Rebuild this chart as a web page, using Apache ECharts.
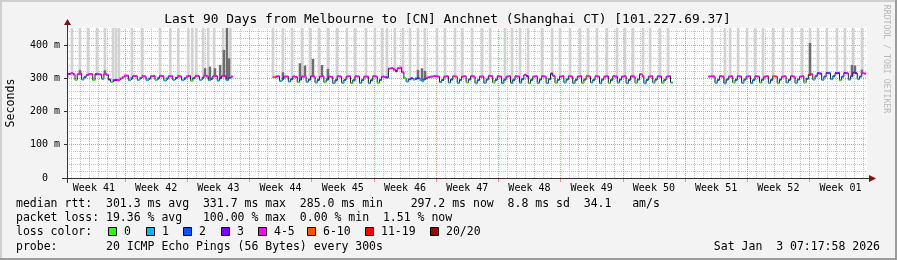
<!DOCTYPE html>
<html><head><meta charset="utf-8">
<script src="https://cdn.jsdelivr.net/npm/echarts@6/dist/echarts.min.js"></script>
<style>html,body{margin:0;padding:0;background:#f3f3f3}#c{width:897px;height:260px}</style>
</head><body><div id="c"></div>
<script>
// x coordinate: days since Monday 00:00 of Week 41; one median every 6 hours
const T0 = 0.5, STEP = 0.25;
const xMin = 0.475, xMax = 90.475;
const yMax = 451;
// median rtt (ms), 4 per day
const median = [
304,313,315,311, 295,312,314,296, 303,310,313,312, 294,312,313,311, 298,313,310,296,
289,294,295,294, 299,303,308,308, 294,300,307,306, 295,301,307,305, 294,299,306,307,
295,300,307,306, 293,299,306,306, 295,301,307,305, 294,300,306,307, 293,300,307,306,
295,301,308,305, 294,299,306,307, 293,300,307,306, 294,301,305,null,
null,null,null,null, null,null,null,null, null,null,null,null, null,null,null,null,
null,303,305,306, 292,298,305,305, 290,297,305,304, 288,296,305,305, 289,296,306,305,
287,295,305,306, 288,296,305,304, 285,294,306,305, 286,295,305,306, 285,294,306,305,
286,295,305,305, 285,294,306,305, 286,295,305,304, 302,329,331,326, 321,330,332,318,
300,290,297,300, 296,299,300,295, 291,298,302,304, 305,306,306,305, 288,295,305,306,
287,296,306,305, 286,295,305,306, 287,296,306,305, 285,294,305,305, 286,296,307,306,
287,295,306,305, 285,296,305,306, 286,295,306,305, 287,297,310,306, 285,295,305,306,
286,296,306,305, 285,297,314,307, 286,295,305,306, 287,296,306,305, 285,295,305,306,
286,296,307,305, 287,295,306,305, 285,296,305,306, 286,295,306,305, 287,296,305,306,
285,295,306,305, 286,296,312,306, 285,295,305,306, 287,296,306,305, 286,295,305,306,
287,null,null,null, null,null,null,null, null,null,null,null, null,null,null,null,
null,305,306,305, 286,295,306,305, 285,296,305,306, 287,295,306,305, 286,296,305,306,
285,295,306,305, 287,296,305,306, 286,295,306,305, 285,296,305,306, 287,295,306,305,
286,296,305,306, 287,298,310,312, 296,306,315,314, 295,305,316,315, 297,306,315,316,
294,305,316,315, 296,306,317,315, 297,305,315,314
];
// lost pings out of 20 for each median
const loss = [
4,3,5,4, 0,4,5,1, 2,5,4,5, 0,3,5,5, 1,5,4,3,
0,3,3,5, 5,5,5,4, 1,2,5,4, 1,2,5,5, 1,2,4,5,
0,2,5,4, 1,2,5,5, 1,3,5,4, 1,2,4,5, 0,2,5,4,
1,2,5,5, 1,2,5,4, 1,3,4,5, 1,2,5,0,
0,0,0,0, 0,0,0,0, 0,0,0,0, 0,0,0,0,
0,7,5,4, 1,2,5,4, 1,2,5,5, 0,2,4,5, 1,2,5,4,
1,2,5,5, 0,2,5,4, 1,2,5,5, 1,2,4,5, 0,2,5,4,
1,2,5,5, 1,2,5,4, 0,2,5,5, 2,5,5,5, 3,5,5,4,
0,1,2,3, 1,2,3,1, 1,2,4,5, 5,4,5,4, 1,2,5,4,
1,2,5,7, 1,2,5,4, 0,2,5,5, 1,2,4,5, 1,2,5,4,
0,2,5,5, 1,2,5,4, 1,2,4,5, 1,2,5,3, 0,2,5,4,
1,2,5,5, 1,2,3,5, 0,2,5,4, 1,2,5,5, 1,2,4,5,
0,2,7,5, 1,2,5,4, 1,2,5,5, 0,2,4,5, 1,2,5,4,
1,2,5,5, 0,2,5,4, 1,2,5,5, 1,2,4,5, 0,2,5,4,
1,0,0,0, 0,0,0,0, 0,0,0,0, 0,0,0,0,
0,5,5,4, 1,2,5,4, 1,2,5,5, 0,2,4,5, 1,2,5,4,
1,2,5,5, 0,2,5,4, 1,2,7,5, 0,2,5,4, 1,2,5,5,
1,2,4,5, 0,2,12,5, 1,2,3,3, 1,2,3,2, 1,2,3,3,
0,2,3,5, 1,2,3,3, 1,2,5,4
];
// times (days) where the ping spread (smoke) reaches past the top of the graph
const bandT = [1.03,1.93,2.83,3.85,4.75,5.65,5.98,6.32,7.78,8.91,10.94,12.09,12.99,14.11,14.56,15.01,15.8,16.36,17.03,18.04,18.83,
23.65,24.77,25.79,26.91,27.81,28.82,29.83,30.85,31.97,32.87,34.11,35.12,35.91,36.47,37.37,38.27,39.06,39.96,40.75,42.1,43.0,44.13,44.92,46.04,47.17,48.07,49.75,50.54,51.44,52.34,53.91,55.04,55.94,57.06,58.19,59.09,60.1,61.22,62.35,63.25,64.15,65.28,66.07,67.19,68.09,
73.04,74.5,75.07,75.97,76.98,77.88,78.78,79.91,81.03,82.04,83.17,84.06,84.96,85.97,87.1,88.0,88.9,89.91];
// dense (dark) smoke tops
const darkT   = [1.93,4.75,16.0,16.56,17.12,17.7,18.13,18.47,18.7,24.77,26.68,27.25,28.15,29.16,29.83,39.96,40.41,40.75,84.06,88.78,89.12,89.9];
const darkTop = [325, 324, 330, 335, 330, 340, 385, 451, 360, 318, 345, 338, 358, 340, 328, 325, 330, 322, 406, 340, 338, 326];
const weekLabels = ['Week 41','Week 42','Week 43','Week 44','Week 45','Week 46','Week 47','Week 48','Week 49','Week 50','Week 51','Week 52','Week 01'];
const yTicks = [0,100,200,300,400];
const lossColors = ['#26ff00','#00b8ff','#0059ff','#7e00ff','#ff00ff','#ff5500','#ff0000','#a10000'];
const lossLabels = ['0','1','2','3','4-5','6-10','11-19','20/20'];

function lossClass(n){ if(n<=3) return n; if(n<=5) return 4; if(n<=10) return 5; if(n<=19) return 6; return 7; }
function baseAt(t){
  let i = Math.round((t - T0)/STEP);
  for (let k=0;k<8;k++){
    for (const j of [i-k, i+k]) if (j>=0 && j<median.length && median[j]!=null) return median[j];
  }
  return 300;
}
const MONO = '"DejaVu Sans Mono", monospace';
const weekBounds = [], weekMids = [], days = [];
for (let w=1; w<=12; w++) weekBounds.push(w*7);
for (let w=0; w<13; w++) weekMids.push(w*7+3.5);
for (let d=1; d<=90; d++) if (d%7) days.push(d);
const gridData = [];
days.forEach(d=>gridData.push({xAxis:d, lineStyle:{color:'#c4c4c4', type:[1,1], width:1}}));
for (let v=20; v<=440; v+=20) if (v%100) gridData.push({yAxis:v, lineStyle:{color:'#c4c4c4', type:[1,1], width:1}});
weekBounds.forEach(d=>gridData.push({xAxis:d, lineStyle:{color:'#ff8c8c', type:[1,1], width:1}}));
yTicks.slice(1).forEach(v=>gridData.push({yAxis:v, lineStyle:{color:'#ff8c8c', type:[1,1], width:1}}));

const lineData = median.map((v,i)=>[T0+i*STEP, v==null?null:v]);
const dashData = [];
median.forEach((v,i)=>{ if(v!=null) dashData.push([T0+i*STEP, v, lossClass(loss[i])]); });

function rectItem(fill, wDays){
  return function(params, api){
    const t = api.value(0), lo = api.value(1), hi = api.value(2);
    const a = api.coord([t, hi]), b = api.coord([t, lo]);
    const w = api.size([wDays, 0])[0];
    return {type:'rect', shape:{x:a[0]-w/2, y:a[1], width:w, height:b[1]-a[1]}, style:{fill:fill}};
  };
}

const chart = echarts.init(document.getElementById('c'), null, {renderer:'canvas'});
const legendX = [108,146,183,221,258,307,365,430];
const graphic = [
  {type:'rect', shape:{x:0,y:0,width:897,height:2}, style:{fill:'#cfcfcf'}},
  {type:'rect', shape:{x:0,y:0,width:2,height:260}, style:{fill:'#cfcfcf'}},
  {type:'rect', shape:{x:895,y:0,width:2,height:260}, style:{fill:'#9c9c9c'}},
  {type:'rect', shape:{x:0,y:258,width:897,height:2}, style:{fill:'#9c9c9c'}},
  {type:'line', shape:{x1:67.5,y1:183,x2:67.5,y2:24}, style:{stroke:'#333',lineWidth:1}, z:50},
  {type:'line', shape:{x1:62,y1:178.5,x2:870,y2:178.5}, style:{stroke:'#333',lineWidth:1}, z:50},
  {type:'polygon', shape:{points:[[64,25],[71,25],[67.5,19]]}, style:{fill:'#7f1010'}, z:51},
  {type:'polygon', shape:{points:[[869,175],[869,182],[876,178.5]]}, style:{fill:'#7f1010'}, z:51},
  {type:'text', x:447.5, y:20, style:{text:'Last 90 Days from Melbourne to [CN] Anchnet (Shanghai CT) [101.227.69.37]', font:'12.9px '+MONO, fill:'#000', align:'center', verticalAlign:'middle'}},
  {type:'text', x:11, y:103, rotation:Math.PI/2, style:{text:'Seconds', font:'11.6px '+MONO, fill:'#000', align:'center', verticalAlign:'middle'}},
  {type:'text', x:886, y:59, rotation:-Math.PI/2, style:{text:'RRDTOOL / TOBI OETIKER', font:'8.2px '+MONO, fill:'#b8b8b8', align:'center', verticalAlign:'middle'}},
  {type:'text', x:16, y:204, style:{text:'median rtt:  301.3 ms avg  331.7 ms max  285.0 ms min    297.2 ms now  8.8 ms sd  34.1   am/s', font:'11.5px '+MONO, fill:'#000', verticalAlign:'middle'}},
  {type:'text', x:16, y:218, style:{text:'packet loss: 19.36 % avg   100.00 % max  0.00 % min  1.51 % now', font:'11.5px '+MONO, fill:'#000', verticalAlign:'middle'}},
  {type:'text', x:16, y:232, style:{text:'loss color:', font:'11.5px '+MONO, fill:'#000', verticalAlign:'middle'}},
  {type:'text', x:16, y:247, style:{text:'probe:       20 ICMP Echo Pings (56 Bytes) every 300s', font:'11.5px '+MONO, fill:'#000', verticalAlign:'middle'}},
  {type:'text', x:880, y:247, style:{text:'Sat Jan  3 07:17:58 2026', font:'11.5px '+MONO, fill:'#000', align:'right', verticalAlign:'middle'}}
];
lossLabels.forEach((lab,k)=>{
  graphic.push({type:'rect', shape:{x:legendX[k]+0.5,y:227.5,width:8,height:8}, style:{fill:lossColors[k], stroke:'#000', lineWidth:1}});
  graphic.push({type:'text', x:legendX[k]+16, y:232, style:{text:lab, font:'11.5px '+MONO, fill:'#000', verticalAlign:'middle'}});
});

chart.setOption({
  animation:false,
  backgroundColor:'#f3f3f3',
  grid:{left:67, top:28, width:800, height:150, show:true, backgroundColor:'#fff', borderWidth:0},
  xAxis:{type:'value', min:xMin, max:xMax,
    axisLine:{show:false},
    axisTick:{show:true, customValues:weekBounds, length:4, lineStyle:{color:'#ff8c8c'}},
    axisLabel:{show:true, customValues:weekMids, margin:5, fontFamily:MONO, fontSize:10, color:'#000',
      formatter:v=>weekLabels[Math.round((v-3.5)/7)]},
    splitLine:{show:false}},
  yAxis:{type:'value', min:0, max:yMax,
    axisLine:{show:false},
    axisTick:{show:true, customValues:yTicks, length:3, lineStyle:{color:'#333'}},
    axisLabel:{show:true, customValues:yTicks, margin:7, fontFamily:MONO, fontSize:10, color:'#000',
      formatter:v=> v===0 ? '0  ' : v+' m'},
    splitLine:{show:false}},
  graphic:graphic,
  series:[
    {type:'line', data:[[xMin,0],[xMax,0]], lineStyle:{opacity:0}, showSymbol:false, silent:true, z:0,
      markLine:{silent:true, symbol:['none','none'], label:{show:false}, animation:false, z:0, data:gridData}},
    {type:'custom', data:bandT.map(t=>[t, baseAt(t)-4, yMax]), renderItem:rectItem('#d2d2d2',0.3), clip:true, silent:true, z:1},
    {type:'custom', data:darkT.map((t,k)=>[t, baseAt(t), darkTop[k]]), renderItem:rectItem('#6e6e6e',0.28), clip:true, silent:true, z:2},
    {type:'line', data:lineData, step:'middle', showSymbol:false, connectNulls:false, silent:true,
      lineStyle:{color:'#1a1a1a', width:1}, z:3},
    {type:'custom', data:dashData, silent:true, z:4, clip:true,
      renderItem:function(params, api){
        const p = api.coord([api.value(0), api.value(1)]);
        const w = api.size([STEP,0])[0];
        return {type:'rect', shape:{x:p[0]-w/2, y:p[1]-1, width:w, height:2}, style:{fill:lossColors[api.value(2)]}};
      }}
  ]
});
</script></body></html>
